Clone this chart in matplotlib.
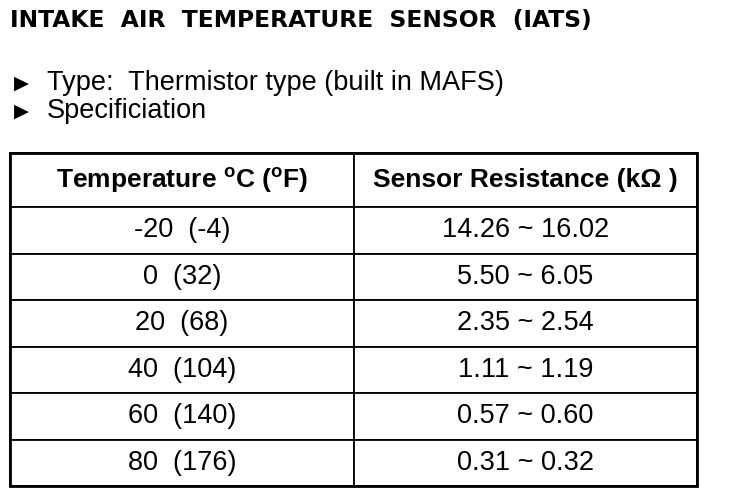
import matplotlib.pyplot as plt

# data
title = "INTAKE  AIR  TEMPERATURE  SENSOR  (IATS)"
bullets = ["Type:  Thermistor type (built in MAFS)", "Specificiation"]
col_labels = ["Temperature $^{\\mathregular{o}}$C ($^{\\mathregular{o}}$F)", "Sensor Resistance (k\u03a9 )"]
temps = ["-20  (-4)", "0  (32)", "20  (68)", "40  (104)", "60  (140)", "80  (176)"]
resist = ["14.26 ~ 16.02", "5.50 ~ 6.05", "2.35 ~ 2.54", "1.11 ~ 1.19", "0.57 ~ 0.60", "0.31 ~ 0.32"]

W, H = 736, 496
fig = plt.figure(figsize=(W / 100, H / 100), dpi=100)
ax = fig.add_axes([0, 0, 1, 1])
ax.set_xlim(0, W)
ax.set_ylim(H, 0)
ax.axis('off')

plt.rcParams['font.family'] = ['Liberation Sans', 'DejaVu Sans']

ax.text(10, 21, title, fontsize=16.8, fontweight='bold', va='center', ha='left',
        family='DejaVu Sans')

for i, b in enumerate(bullets):
    y = 83 + i * 28
    ax.text(14, y, "\u25b6", fontsize=14, va='center', ha='left', family='DejaVu Sans')
    ax.text(47, y, b, fontsize=19.5, va='center', ha='left')

# table
left, right, top, bottom = 10, 697, 153, 486
cells = [[t, r] for t, r in zip(temps, resist)]
tbl = ax.table(cellText=cells, colLabels=col_labels, cellLoc='center',
               bbox=[left / W, 1 - bottom / H, (right - left) / W, (bottom - top) / H])
tbl.auto_set_font_size(False)
for (r, c), cell in tbl.get_celld().items():
    cell.set_linewidth(1.3)
    cell.set_edgecolor('black')
    if r == 0:
        cell.set_height(54)
        cell.get_text().set_fontweight('bold')
        cell.get_text().set_fontsize(19)
    else:
        cell.set_height(46.5)
        cell.get_text().set_fontsize(19.5)

# heavier outer frame
ax.add_patch(plt.Rectangle((left, top), right - left, bottom - top, fill=False, lw=2, ec='black'))

fig.savefig('out.png', dpi=100)
